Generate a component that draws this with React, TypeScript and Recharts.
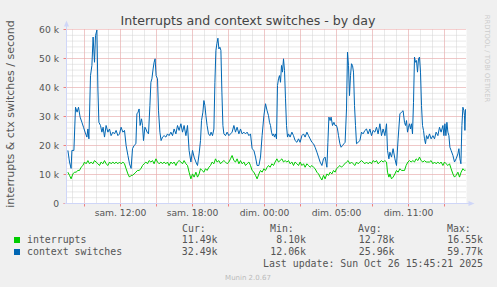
import React from "react";
import { LineChart, Line, XAxis, YAxis, CartesianGrid } from "recharts";

// ---- texts ----
const chartTitle = "Interrupts and context switches - by day";
const yAxisLabel = "interrupts & ctx switches / second";
const sideText = "RRDTOOL / TOBI OETIKER";
const lastUpdate = "Last update: Sun Oct 26 15:45:21 2025";
const versionText = "Munin 2.0.67";

// x axis: minutes since sam. 07:30 (real elapsed time, DST change included)
const xTickTimes = [270, 630, 990, 1350, 1710];
const xTickLabels = ["sam. 12:00", "sam. 18:00", "dim. 00:00", "dim. 05:00", "dim. 11:00"];
const yTicks = [0, 10, 20, 30, 40, 50, 60]; // thousands

// ---- legend ----
const seriesNames = ["interrupts", "context switches"];
const seriesColors = ["#00CC00", "#0066B3"];
const statHeaders = ["Cur:", "Min:", "Avg:", "Max:"];
const interruptsStats = ["11.49k", "8.10k", "12.78k", "16.55k"];
const ctxStats = ["32.49k", "12.06k", "25.96k", "59.77k"];

// ---- series: [minutes, value in thousands/s] ----
const interrupts: [number, number][] = [
  [7, 10.8], [15, 9.7], [23, 8.5], [32, 10.2], [40, 10.8], [48, 10.8], [57, 11.4], [65, 11.4], [73, 12.5], [82, 13.1],
  [90, 14.3], [98, 13.7], [107, 14.8], [115, 13.7], [123, 14.3], [132, 13.7], [140, 14.8], [148, 14.3], [157, 13.7], [165, 13.1],
  [173, 14.3], [182, 13.7], [190, 14.8], [198, 13.7], [207, 13.1], [215, 14.3], [223, 13.7], [232, 14.3], [240, 13.7], [248, 14.3],
  [257, 13.7], [265, 14.3], [273, 13.7], [282, 14.3], [290, 13.7], [298, 12.0], [307, 10.2], [315, 9.1], [323, 9.7],
  [330, 9.7], [338, 10.2], [347, 10.8], [355, 11.4], [363, 11.4], [372, 12.0], [380, 13.1], [388, 13.7], [397, 14.3], [405, 13.7],
  [413, 14.8], [422, 14.3], [430, 14.8], [438, 13.7], [447, 15.4], [455, 14.3], [463, 13.7], [472, 14.3], [480, 13.7], [488, 14.3],
  [497, 13.7], [505, 14.3], [513, 13.1], [522, 14.3], [530, 13.7], [538, 14.3], [547, 13.1], [555, 14.3], [563, 14.8], [572, 14.3],
  [580, 13.7], [588, 14.8], [597, 13.7], [605, 13.1], [613, 10.8], [622, 8.5], [630, 10.2], [638, 9.1], [647, 10.8], [655, 9.1], [663, 10.2],
  [670, 12.0], [678, 11.4], [687, 10.8], [695, 12.0], [703, 11.4], [712, 12.5], [720, 13.1], [728, 14.3], [737, 13.7], [745, 15.4],
  [753, 14.3], [762, 14.8], [770, 13.7], [778, 14.3], [787, 14.8], [795, 14.3], [803, 13.7], [812, 14.3], [820, 15.4], [828, 16.55],
  [837, 14.8], [845, 14.3], [853, 15.4], [862, 13.7], [870, 14.8], [878, 13.7], [887, 14.3], [895, 13.1], [903, 13.7], [912, 14.3],
  [920, 13.1], [928, 11.4], [937, 10.8], [945, 9.7], [953, 8.5], [962, 10.2], [970, 11.4], [978, 10.8], [987, 12.0], [995, 11.4], [1003, 12.5],
  [1010, 13.1], [1018, 12.5], [1027, 13.7], [1035, 13.1], [1043, 14.3], [1052, 15.4], [1060, 14.3], [1068, 14.8], [1077, 15.4], [1085, 14.3],
  [1093, 14.8], [1102, 14.3], [1110, 14.8], [1118, 13.7], [1127, 14.3], [1135, 13.1], [1143, 14.3], [1152, 13.7], [1160, 13.1], [1168, 14.3],
  [1177, 13.1], [1185, 13.7], [1193, 12.5], [1202, 13.7], [1210, 13.1], [1218, 12.5], [1227, 13.1], [1235, 12.5], [1243, 12.0], [1252, 10.8],
  [1260, 10.2], [1268, 9.1], [1277, 8.1], [1285, 9.7], [1293, 8.5], [1302, 10.2], [1310, 9.7], [1318, 10.8], [1327, 10.2], [1335, 11.4], [1343, 10.8],
  [1350, 12.0], [1358, 12.5], [1367, 13.1], [1375, 12.5], [1383, 13.1], [1392, 13.7], [1400, 14.3], [1408, 14.8], [1417, 13.7], [1425, 14.3],
  [1433, 13.7], [1442, 13.1], [1450, 14.3], [1458, 13.7], [1467, 14.3], [1475, 14.8], [1483, 14.3], [1492, 13.7], [1500, 14.3], [1508, 13.7],
  [1517, 14.3], [1525, 13.7], [1533, 14.8], [1542, 14.3], [1550, 14.8], [1558, 13.7], [1567, 14.3], [1575, 14.8], [1583, 14.3], [1592, 14.8],
  [1600, 14.3], [1605, 10.8], [1612, 9.1], [1617, 10.2], [1625, 8.5], [1633, 9.1], [1642, 10.2], [1650, 11.4], [1658, 10.8], [1667, 12.0],
  [1675, 11.4], [1683, 11.4],
  [1690, 11.4], [1698, 13.1], [1707, 14.3], [1715, 14.8], [1723, 14.3], [1732, 14.8], [1740, 14.3], [1748, 15.4], [1757, 14.8], [1765, 16.0],
  [1773, 14.8], [1782, 14.3], [1790, 14.8], [1798, 14.3], [1807, 14.3], [1815, 14.3], [1823, 14.8], [1832, 13.7], [1840, 14.3], [1848, 13.7],
  [1857, 14.3], [1865, 13.7], [1873, 14.3], [1882, 13.1], [1890, 14.3], [1898, 13.7], [1907, 13.1], [1915, 13.7], [1923, 12.0], [1932, 10.2],
  [1940, 9.1], [1948, 9.7], [1957, 10.8], [1965, 9.1], [1973, 10.8], [1982, 12.0], [1990, 11.4], [1995, 11.5],
];

const contextSwitches: [number, number][] = [
  [7, 18.3], [15, 14.3], [23, 12.1], [27, 18.3], [37, 18.3], [45, 33.2], [53, 31.5], [60, 33.2], [68, 29.8], [77, 28.0],
  [85, 26.3], [93, 24.6], [102, 22.9], [107, 25.7], [112, 22.3], [120, 44.1], [127, 47.6], [133, 57.4], [140, 48.7], [145, 57.9],
  [152, 59.8], [157, 39.5], [162, 28.0], [170, 26.9], [177, 24.6], [183, 26.3], [190, 22.9], [198, 26.9], [207, 24.6], [215, 25.7],
  [223, 23.4], [232, 24.6], [240, 24.0], [248, 25.2], [257, 23.4], [265, 24.0], [273, 26.3], [282, 24.6], [290, 25.2], [298, 20.0],
  [307, 16.6], [315, 13.7], [323, 12.1],
  [330, 18.9], [338, 20.0], [347, 20.6], [352, 30.9], [358, 31.5], [363, 32.6], [368, 26.9], [375, 29.2], [380, 26.9], [385, 21.7],
  [392, 26.3], [397, 25.7], [403, 24.6], [410, 24.0], [417, 33.8], [422, 41.8], [427, 43.0], [433, 46.4], [438, 48.7], [443, 49.9],
  [448, 44.1], [455, 43.0], [460, 32.0], [467, 24.6], [473, 21.7], [480, 22.9], [488, 23.4], [497, 22.9], [505, 24.0], [513, 23.4],
  [522, 24.6], [530, 23.4], [538, 25.7], [547, 24.0], [555, 26.9], [563, 25.2], [572, 27.5], [580, 24.6], [588, 26.9], [597, 23.4],
  [605, 26.9], [613, 18.3], [622, 14.3], [630, 18.3], [638, 16.0], [647, 14.3], [655, 13.1], [663, 17.1],
  [670, 21.7], [675, 28.6], [682, 31.5], [687, 35.5], [692, 33.8], [697, 30.3], [703, 26.9], [710, 24.0], [717, 23.4], [723, 24.6],
  [730, 23.4], [737, 25.7], [742, 41.8], [747, 52.8], [752, 55.1], [757, 57.0], [762, 53.3], [767, 53.9], [772, 52.8], [777, 38.4],
  [782, 26.9], [787, 24.0], [795, 23.4], [803, 24.6], [812, 23.4], [820, 24.0], [828, 24.6], [837, 26.9], [845, 24.6], [853, 26.3],
  [862, 24.0], [870, 25.7], [878, 24.0], [887, 24.6], [895, 24.0], [903, 24.6], [912, 23.4], [920, 24.0], [928, 18.9], [937, 18.3],
  [945, 16.0], [953, 13.1], [962, 13.1], [970, 16.0], [978, 23.4], [987, 30.3], [995, 34.4], [1003, 32.0],
  [1010, 30.3], [1015, 28.0], [1020, 26.9], [1025, 24.6], [1030, 23.4], [1035, 24.0], [1040, 22.9], [1045, 24.0], [1050, 22.3], [1055, 40.7],
  [1060, 43.0], [1065, 44.1], [1070, 41.8], [1075, 47.6], [1080, 45.3], [1085, 49.9], [1090, 45.9], [1095, 36.1], [1100, 26.9], [1105, 22.9],
  [1110, 24.0], [1118, 22.9], [1127, 24.6], [1135, 23.4], [1143, 21.7], [1152, 21.1], [1160, 22.3], [1168, 21.1], [1177, 23.4], [1185, 24.0],
  [1193, 22.9], [1202, 24.6], [1210, 23.4], [1218, 22.3], [1227, 21.1], [1235, 20.6], [1243, 19.4], [1252, 17.7], [1260, 16.0], [1268, 14.3],
  [1277, 13.1], [1285, 15.4], [1293, 16.0], [1302, 12.5], [1307, 21.1], [1312, 29.8], [1318, 28.6], [1323, 29.8], [1330, 26.9], [1337, 28.0],
  [1343, 26.9],
  [1350, 26.9], [1355, 25.7], [1360, 23.4], [1367, 20.6], [1373, 19.4], [1380, 20.0], [1387, 20.6], [1393, 21.1], [1400, 32.6], [1405, 52.2],
  [1410, 47.6], [1415, 37.2], [1420, 44.1], [1425, 48.2], [1430, 47.6], [1435, 45.3], [1440, 33.8], [1445, 26.9], [1450, 20.6], [1458, 21.1],
  [1467, 21.7], [1475, 24.6], [1483, 24.0], [1492, 25.2], [1500, 25.7], [1508, 24.0], [1517, 25.7], [1525, 23.4], [1533, 25.2], [1542, 24.6],
  [1550, 26.3], [1558, 24.0], [1567, 27.5], [1575, 23.4], [1583, 25.7], [1592, 23.4], [1600, 27.5], [1605, 18.3], [1612, 15.4], [1617, 17.7],
  [1625, 16.0], [1633, 18.9], [1642, 15.4], [1650, 13.1], [1658, 22.3], [1667, 30.9], [1675, 31.5], [1683, 32.0],
  [1690, 28.0], [1695, 26.9], [1700, 28.6], [1705, 24.6], [1710, 26.3], [1715, 27.5], [1720, 25.7], [1725, 27.5], [1730, 24.0], [1735, 34.9],
  [1740, 50.5], [1745, 48.7], [1750, 49.3], [1755, 45.3], [1760, 49.9], [1765, 50.5], [1770, 45.3], [1775, 33.8], [1780, 26.9], [1785, 25.2],
  [1790, 22.3], [1795, 20.6], [1800, 23.4], [1807, 22.3], [1815, 24.0], [1823, 22.3], [1832, 23.4], [1840, 22.3], [1848, 24.6], [1857, 23.4],
  [1865, 26.3], [1873, 24.6], [1882, 26.9], [1887, 23.4], [1892, 27.5], [1897, 23.4], [1902, 28.0], [1907, 24.6], [1912, 23.4], [1917, 19.4],
  [1923, 18.3], [1932, 16.6], [1940, 14.3], [1948, 15.4], [1957, 17.1], [1962, 18.9], [1967, 15.4], [1972, 13.7], [1977, 26.9], [1982, 33.2],
  [1987, 32.0], [1990, 30.3], [1992, 25.2], [1995, 32.5],
];

// grid positions (minutes / thousands)
const majorX = Array.from({ length: 11 }, (_, i) => 90 + i * 180);
const minorX = Array.from({ length: 33 }, (_, i) => 30 + i * 60);
const majorY = [10, 20, 30, 40, 50, 60];
const minorY = Array.from({ length: 29 }, (_, i) => 2 + i * 2);

const intData = interrupts.map(([t, v]) => ({ t, v }));
const ctxData = contextSwitches.map(([t, v]) => ({ t, v }));

const SANS = "'DejaVu Sans', Verdana, sans-serif";
const MONO = "'DejaVu Sans Mono', monospace";
const FONT_COLOR = "#555555";
const AXIS_COLOR = "#CFD6F8";
const MAJOR_GRID = "#F4A6A6";
const MINOR_GRID = "#D2D2D2";

const W = 497;
const H = 287;
const PLOT_LEFT = 66.5;
const PLOT_TOP = 29.5;
const PLOT_BOTTOM = 203.5;
const PLOT_RIGHT = 466.5;
const X_AXIS_H = 20;

const statCols = [
  { head: 182, end: 217.5 },
  { head: 270, end: 306 },
  { head: 358, end: 394.5 },
  { head: 447, end: 483 },
];

export default function App() {
  const labelFor = (t: number) => {
    const i = xTickTimes.indexOf(t);
    return i >= 0 ? xTickLabels[i] : "";
  };
  return (
    <div style={{ position: "absolute", left: 0, top: 0, width: W, height: H, background: "#F0F0F0" }}>
      <LineChart
        width={W}
        height={H}
        margin={{ top: PLOT_TOP, right: W - PLOT_RIGHT, bottom: H - PLOT_BOTTOM - X_AXIS_H, left: 0.5 }}
      >
        <CartesianGrid
          fill="#FFFFFF"
          stroke={MINOR_GRID}
          strokeDasharray="1 1"
          horizontalValues={minorY}
          verticalValues={minorX}
        />
        <CartesianGrid
          stroke={MAJOR_GRID}
          strokeDasharray="1 1"
          horizontalValues={majorY}
          verticalValues={majorX}
        />
        <XAxis
          type="number"
          dataKey="t"
          height={X_AXIS_H}
          domain={[0, 2000]}
          ticks={majorX}
          interval={0}
          tickFormatter={labelFor}
          axisLine={false}
          tickLine={{ stroke: "#F08080" }}
          tickSize={3}
          tickMargin={3}
          tick={{ fontSize: 9.2, fill: FONT_COLOR, fontFamily: SANS }}
          allowDataOverflow
        />
        <YAxis
          type="number"
          domain={[0, 60]}
          ticks={yTicks}
          interval={0}
          width={66}
          tickFormatter={(v: number) => (v === 0 ? "0" : `${v} k`)}
          axisLine={false}
          tickLine={{ stroke: "#F08080" }}
          tickSize={3}
          tickMargin={4.5}
          tick={{ fontSize: 9.2, fill: FONT_COLOR, fontFamily: SANS }}
          allowDataOverflow
        />
        <Line
          data={intData}
          dataKey="v"
          type="linear"
          stroke={seriesColors[0]}
          strokeWidth={1}
          dot={false}
          activeDot={false}
          isAnimationActive={false}
        />
        <Line
          data={ctxData}
          dataKey="v"
          type="linear"
          stroke={seriesColors[1]}
          strokeWidth={1}
          dot={false}
          activeDot={false}
          isAnimationActive={false}
        />
      </LineChart>
      <svg
        width={W}
        height={H}
        style={{ position: "absolute", left: 0, top: 0, pointerEvents: "none" }}
      >
        {/* axes with arrows */}
        <line x1={PLOT_LEFT} y1={PLOT_BOTTOM} x2={PLOT_LEFT} y2={24} stroke={AXIS_COLOR} strokeWidth={1} />
        <polygon points={`${PLOT_LEFT},20.5 ${PLOT_LEFT - 2.5},26.5 ${PLOT_LEFT + 2.5},26.5`} fill={AXIS_COLOR} />
        <line x1={PLOT_LEFT - 2} y1={PLOT_BOTTOM} x2={470} y2={PLOT_BOTTOM} stroke={AXIS_COLOR} strokeWidth={1} />
        <polygon points={`474.5,${PLOT_BOTTOM} 468.5,${PLOT_BOTTOM - 2.5} 468.5,${PLOT_BOTTOM + 2.5}`} fill={AXIS_COLOR} />

        {/* title */}
        <text x={248} y={25} textAnchor="middle" fontSize={12.6} fill="#444444" fontFamily={SANS}>
          {chartTitle}
        </text>
        {/* y label */}
        <text
          transform="translate(13.5,114) rotate(-90)"
          textAnchor="middle"
          fontSize={11}
          fill={FONT_COLOR}
          fontFamily={SANS}
        >
          {yAxisLabel}
        </text>
        {/* side text */}
        <text
          transform="translate(485,58.5) rotate(90)"
          textAnchor="middle"
          fontSize={6.8}
          fill="#CCCCCC"
          fontFamily={SANS}
        >
          {sideText}
        </text>

        {/* legend */}
        {statHeaders.map((h, i) => (
          <text key={h} x={statCols[i].head} y={231.5} fontSize={9.9} fill={FONT_COLOR} fontFamily={MONO}>
            {h}
          </text>
        ))}
        {seriesNames.map((name, r) => {
          const y = 243 + r * 12;
          const stats = r === 0 ? interruptsStats : ctxStats;
          return (
            <g key={name}>
              <rect x={14} y={y - 6} width={6} height={6} fill={seriesColors[r]} />
              <text x={27} y={y} fontSize={9.9} fill={FONT_COLOR} fontFamily={MONO}>
                {name}
              </text>
              {stats.map((s, i) => (
                <text
                  key={i}
                  x={statCols[i].end}
                  y={y}
                  textAnchor="end"
                  fontSize={9.9}
                  fill={FONT_COLOR}
                  fontFamily={MONO}
                >
                  {s}
                </text>
              ))}
            </g>
          );
        })}
        <text x={483} y={267} textAnchor="end" fontSize={9.9} fill={FONT_COLOR} fontFamily={MONO}>
          {lastUpdate}
        </text>
        <text x={248} y={280} textAnchor="middle" fontSize={7} fill="#BBBBBB" fontFamily={SANS}>
          {versionText}
        </text>
      </svg>
    </div>
  );
}
